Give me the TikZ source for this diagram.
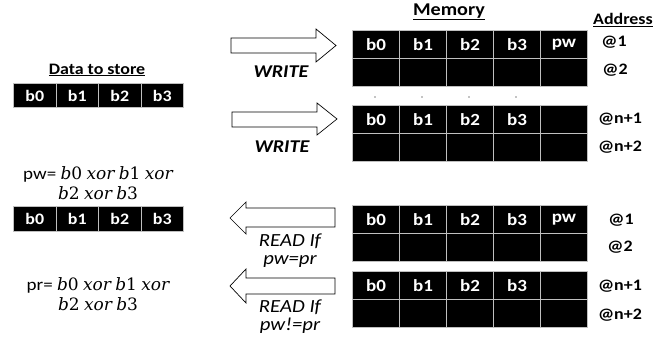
\documentclass[tikz,border=0pt]{standalone}
\usepackage{fontspec}
\setmainfont{Carlito}[FakeStretch=1.12]
\newfontfamily\serifvar{DejaVu Serif}
% parity variable: italic letter, upright index
\newcommand\pv[2]{{\serifvar\itshape #1}{\serifvar #2}}
\newcommand\xorop{{\serifvar\itshape xor}}
\begin{document}
\begin{tikzpicture}[x=1pt,y=-1pt,
  memcell/.style={fill=black, draw=white!75!black, line width=1pt,
    minimum width=47pt, minimum height=28pt, inner sep=0pt, anchor=north west},
  datacell/.style={fill=black, draw=white!75!black, line width=1pt,
    minimum width=42.5pt, minimum height=24pt, inner sep=0pt, anchor=north west},
  celltext/.style={text=white, font=\bfseries\fontsize{17}{17}\selectfont, inner sep=0pt},
  datatext/.style={text=white, font=\bfseries\fontsize{16}{16}\selectfont, inner sep=0pt},
  addr/.style={font=\bfseries\fontsize{16}{16}\selectfont, inner sep=0pt},
  heading/.style={font=\bfseries\fontsize{16}{16}\selectfont, inner sep=0pt},
  formula/.style={font=\fontsize{17}{20}\selectfont, align=center, inner sep=0pt},
  oplabel/.style={font=\itshape\fontsize{18.5}{18}\selectfont, align=center, inner sep=0pt},
  writelabel/.style={font=\bfseries\itshape\fontsize{18}{18}\selectfont, inner sep=0pt},
  blockarrow/.style={draw=black, fill=white, line width=0.7pt, line join=miter}]
\useasboundingbox (0,0) rectangle (654,342);

% ---- memory banks: two write-side, two read-side ----
\foreach \g/\top/\last in {a/30/pw, b/105/{}, c/205/pw, d/271/{}} {
  \foreach \r in {0,1} {
    \foreach \c in {0,...,4} {
      \node[memcell] (\g-\r-\c) at (352+47*\c, \top+28*\r) {};
    }
  }
  \foreach \c in {0,...,3} {
    \node[celltext] at (\g-0-\c) {b\c};
  }
  \node[celltext] at (\g-0-4) {\last};
}

% separating dots between @2 and @n+1
\foreach \c in {0,...,3} {
  \fill (375+47*\c, 97) circle (0.6pt);
}

% ---- headings ----
\node[heading, font=\bfseries\fontsize{18}{18}\selectfont] (memhead) at (449,12) {\underline{Memory}};
\node[heading, anchor=west] (addrhead) at (593,20) {\underline{Address}};
\node[heading] (datahead) at (97,70) {\underline{Data to store}};

% ---- addresses ----
\node[addr] (ad-a0) at (614,42) {@1};
\node[addr] (ad-a1) at (615,70) {@2};
\node[addr] (ad-b0) at (620,119) {@n+1};
\node[addr] (ad-b1) at (620,147) {@n+2};
\node[addr] (ad-c0) at (621,220) {@1};
\node[addr] (ad-c1) at (620,247) {@2};
\node[addr] (ad-d0) at (620,286) {@n+1};
\node[addr] (ad-d1) at (620,315) {@n+2};

% ---- data word to store and word read back ----
\foreach \c in {0,...,3} {
  \node[datacell] (in-\c) at (13+42.5*\c, 83) {};
  \node[datatext] at (in-\c) {b\c};
  \node[datacell, minimum height=25pt] (out-\c) at (13+42.5*\c, 206) {};
  \node[datatext] at (out-\c) {b\c};
}

% ---- parity formulas ----
\node[formula] (pwform) at (98,183)
  {pw= \pv b0 \xorop{} \pv b1 \xorop\\ \pv b2 \xorop{} \pv b3};
\node[formula] (prform) at (98,294)
  {pr= \pv b0 \xorop{} \pv b1 \xorop\\ \pv b2 \xorop{} \pv b3};

% ---- write arrows ----
\draw[blockarrow] (231,38) -- (316,38) -- (316,29) -- (336,45.5)
  -- (316,62) -- (316,53) -- (231,53) -- cycle;
\node[writelabel] (w1) at (281,72) {WRITE};
\draw[blockarrow] (232,112) -- (317,112) -- (317,103) -- (337,119)
  -- (317,135) -- (317,127) -- (232,127) -- cycle;
\node[writelabel] (w2) at (282,147) {WRITE};

% ---- read arrows ----
\draw[blockarrow] (335,208) -- (246,208) -- (246,202) -- (230,218)
  -- (246,234) -- (246,227) -- (335,227) -- cycle;
\node[oplabel] (r1) at (290,251) {READ If\\pw=pr};
\draw[blockarrow] (335,278) -- (246,278) -- (246,269) -- (230,286)
  -- (246,303) -- (246,294) -- (335,294) -- cycle;
\node[oplabel] (r2) at (290,317) {READ If\\pw!=pr};
\end{tikzpicture}
\end{document}
